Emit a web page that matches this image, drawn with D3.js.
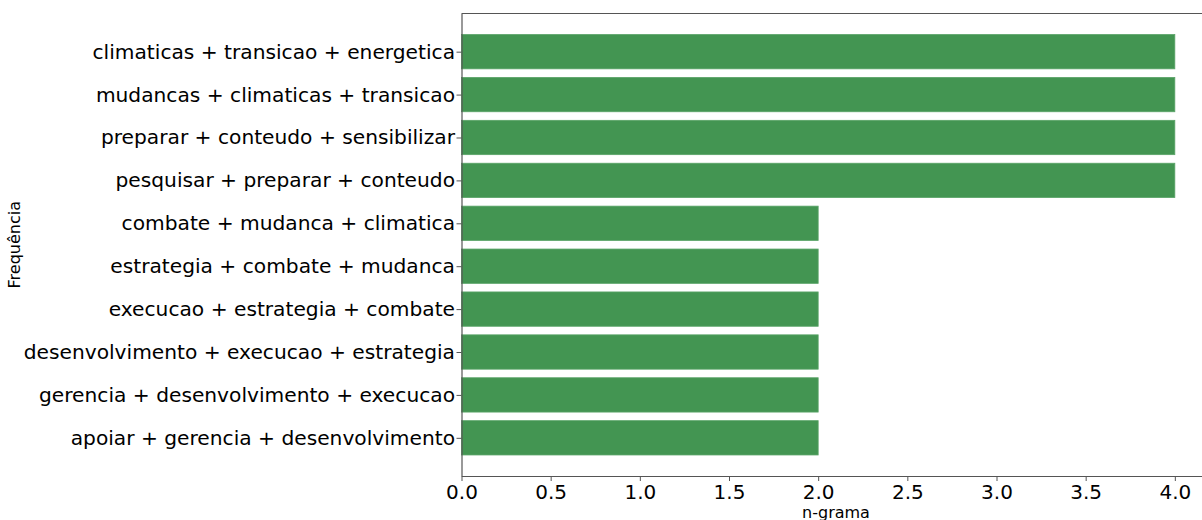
<!DOCTYPE html>
<html>
<head>
<meta charset="utf-8">
<script src="https://cdn.jsdelivr.net/npm/d3@7"></script>
<style>
  body { margin: 0; background: #fff; }
  svg { display: block; font-family: "DejaVu Sans", sans-serif; }
</style>
</head>
<body>
<svg id="chart"></svg>
<script>
// n-grams, top to bottom
const ngramas = [
  "climaticas + transicao + energetica",
  "mudancas + climaticas + transicao",
  "preparar + conteudo + sensibilizar",
  "pesquisar + preparar + conteudo",
  "combate + mudanca + climatica",
  "estrategia + combate + mudanca",
  "execucao + estrategia + combate",
  "desenvolvimento + execucao + estrategia",
  "gerencia + desenvolvimento + execucao",
  "apoiar + gerencia + desenvolvimento"
]
const frequencias = [4, 4, 4, 4, 2, 2, 2, 2, 2, 2]
const xTicks = [0, 0.5, 1, 1.5, 2, 2.5, 3, 3.5, 4]

const svgWidth = 1202, svgHeight = 520
const margin = { top: 13.5, left: 461.5 }
const plotW = 749, plotH = 462.5

const svg = d3.select("#chart")
  .attr("width", svgWidth)
  .attr("height", svgHeight)

const g = svg.append("g")
  .attr("transform", `translate(${margin.left},${margin.top})`)

// x scale: 0 .. 4.2 like matplotlib's margins
const xs = d3.scaleLinear().domain([0, 4.2]).range([0, plotW])

// y: bar index i at position (9 - i), ylim -0.89 .. 9.89
const n = ngramas.length
const ys = d3.scaleLinear().domain([-0.89, n - 1 + 0.89]).range([plotH, 0])
const pos = i => n - 1 - i

g.selectAll("rect.bar")
  .data(frequencias)
  .join("rect")
    .attr("class", "bar")
    .attr("x", xs(0))
    .attr("y", (d, i) => ys(pos(i) + 0.4))
    .attr("width", d => xs(d) - xs(0))
    .attr("height", ys(-0.4) - ys(0.4))
    .attr("fill", "#439552")
    .attr("stroke", "#5aa468")
    .attr("stroke-width", 0.8)

// x axis
g.append("g")
  .attr("transform", `translate(0,${plotH})`)
  .call(d3.axisBottom(xs).tickValues(xTicks).tickFormat(d3.format(".1f")).tickSize(5).tickPadding(4).tickSizeOuter(0))
  .call(a => a.select(".domain").attr("stroke", "#555").attr("stroke-width", 1.2))
  .call(a => a.selectAll(".tick line").attr("stroke", "#555"))
  .call(a => a.selectAll(".tick text").attr("font-size", 20).attr("fill", "#000").attr("font-family", "DejaVu Sans"))

// y axis
const yAxis = d3.axisLeft(ys)
  .tickValues(d3.range(n).map(pos))
  .tickFormat(v => ngramas[n - 1 - v])
  .tickSize(5).tickPadding(1.5).tickSizeOuter(0)
g.append("g")
  .call(yAxis)
  .call(a => a.select(".domain").attr("stroke", "#555").attr("stroke-width", 1.2))
  .call(a => a.selectAll(".tick line").attr("stroke", "#555"))
  .call(a => a.selectAll(".tick text").attr("font-size", 20.2).attr("fill", "#000").attr("font-family", "DejaVu Sans"))

// top spine
g.append("line")
  .attr("x1", 0).attr("x2", plotW)
  .attr("y1", 0).attr("y2", 0)
  .attr("stroke", "#555").attr("stroke-width", 1.2)

// axis labels
svg.append("text")
  .attr("x", margin.left + plotW / 2)
  .attr("y", 518)
  .attr("text-anchor", "middle")
  .attr("font-size", 16)
  .text("n-grama")

svg.append("text")
  .attr("transform", `translate(20,${margin.top + plotH / 2}) rotate(-90)`)
  .attr("text-anchor", "middle")
  .attr("font-size", 16)
  .text("Frequência")
</script>
</body>
</html>
